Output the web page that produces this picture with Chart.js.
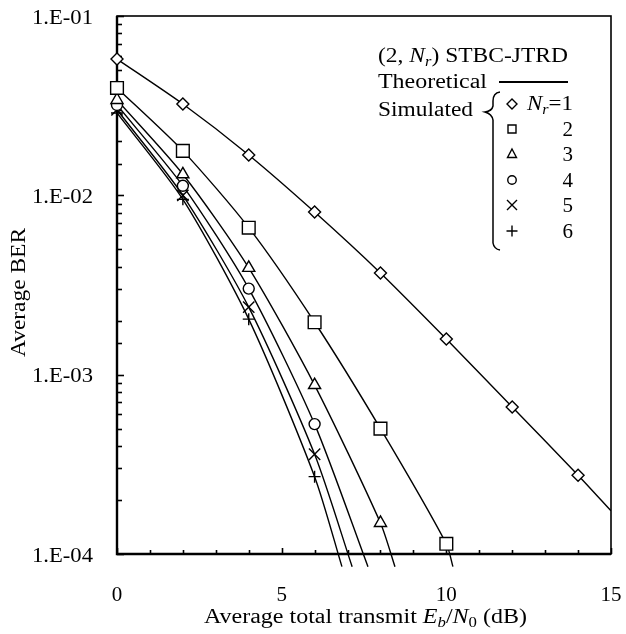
<!DOCTYPE html>
<html>
<head>
<meta charset="utf-8">
<script src="https://cdn.jsdelivr.net/npm/chart.js@4.4.1/dist/chart.umd.min.js"></script>
<style>
  body { margin: 0; background: #fff; }
  #berChart { display: block; }
</style>
</head>
<body>
<canvas id="berChart" width="626" height="634"></canvas>
<script>
// SNR points where the simulation was run (dB)
const snrSim = [0, 2, 4, 6, 8, 10, 12, 14];
// simulated BER, one list per number of receive antennas
const berSim1 = [5.75e-2, 3.23e-2, 1.68e-2, 8.07e-3, 3.69e-3, 1.58e-3, 6.6e-4, 2.75e-4];
const berSim2 = [3.97e-2, 1.77e-2, 6.6e-3, 1.96e-3, 5.0e-4, 1.14e-4];
const berSim3 = [3.4e-2, 1.31e-2, 3.94e-3, 8.75e-4, 1.49e-4];
const berSim4 = [3.19e-2, 1.13e-2, 3.02e-3, 5.3e-4];
const berSim5 = [3.0e-2, 1.0e-2, 2.38e-3, 3.6e-4];
const berSim6 = [2.88e-2, 9.5e-3, 2.04e-3, 2.7e-4];
// where each theoretical curve leaves the plot
const endSnr = [15, 10.2, 8.44, 7.62, 7.14, 6.83];
const endBer = [1.74e-4, 8.5e-5, 8.5e-5, 8.5e-5, 8.5e-5, 8.5e-5];
const nrLabels = ['1', '2', '3', '4', '5', '6'];
const markers = ['rectRot', 'rect', 'triangle', 'circle', 'crossRot', 'cross'];
const markerSize = [6, 9, 7, 5.5, 8, 6];
// axis ticks
const xTicks = [0, 5, 10, 15];
const yTicks = [1e-4, 1e-3, 1e-2, 1e-1];

const serif = 'Liberation Serif';
const allSim = [berSim1, berSim2, berSim3, berSim4, berSim5, berSim6];

var datasets = [];
allSim.forEach(function(ber, i) {
  // simulated points
  datasets.push({
    label: 'Simulated Nr=' + nrLabels[i],
    data: ber.map(function(v, k) { return {x: snrSim[k], y: v}; }),
    showLine: false,
    pointStyle: markers[i],
    pointRadius: markerSize[i],
    pointBorderWidth: 1.4,
    pointBorderColor: '#000',
    pointBackgroundColor: '#fff',
    clip: 12,
    order: 1
  });
});
allSim.forEach(function(ber, i) {
  // theoretical curve
  var pts = ber.map(function(v, k) { return {x: snrSim[k], y: v}; });
  pts.push({x: endSnr[i], y: endBer[i]});
  datasets.push({
    label: 'Theoretical Nr=' + nrLabels[i],
    data: pts,
    showLine: true,
    borderColor: '#000',
    borderWidth: 1.4,
    pointRadius: 0,
    tension: 0.25,
    clip: {left: 0, top: 0, right: 0, bottom: 13},
    order: 2
  });
});

function setFont(ctx, r, size) {
  var fs = r.sub ? size * 0.7 : size;
  ctx.font = (r.it ? 'italic ' : '') + fs + 'px "' + serif + '"';
}
function runsWidth(ctx, runs, size) {
  var w = 0;
  runs.forEach(function(r) { setFont(ctx, r, size); w += ctx.measureText(r.t).width; });
  return w;
}
// draw runs of text (italic / subscript parts), squeezed or stretched to a width
function drawRuns(ctx, runs, x, y, size, width) {
  var nat = runsWidth(ctx, runs, size);
  var hs = width ? width / nat : 1;
  ctx.save();
  ctx.translate(x, y);
  ctx.scale(hs, 1);
  var cx = 0;
  runs.forEach(function(r) {
    setFont(ctx, r, size);
    ctx.fillText(r.t, cx, r.sub ? size * 0.22 : 0);
    cx += ctx.measureText(r.t).width;
  });
  ctx.restore();
}

function legendMarker(ctx, type, x, y, s) {
  ctx.beginPath();
  if (type == 'rectRot') {
    ctx.moveTo(x, y - s); ctx.lineTo(x + s, y); ctx.lineTo(x, y + s); ctx.lineTo(x - s, y); ctx.closePath();
  } else if (type == 'rect') {
    ctx.rect(x - s * 0.8, y - s * 0.8, s * 1.6, s * 1.6);
  } else if (type == 'triangle') {
    ctx.moveTo(x, y - s); ctx.lineTo(x + s * 0.9, y + s * 0.7); ctx.lineTo(x - s * 0.9, y + s * 0.7); ctx.closePath();
  } else if (type == 'circle') {
    ctx.arc(x, y, s * 0.85, 0, Math.PI * 2);
  } else if (type == 'crossRot') {
    ctx.moveTo(x - s, y - s); ctx.lineTo(x + s, y + s); ctx.moveTo(x + s, y - s); ctx.lineTo(x - s, y + s);
  } else {
    ctx.moveTo(x - s * 1.1, y); ctx.lineTo(x + s * 1.1, y); ctx.moveTo(x, y - s * 1.1); ctx.lineTo(x, y + s * 1.1);
  }
  ctx.stroke();
}

function isDecade(v) {
  var lg = Math.log10(v);
  return Math.abs(lg - Math.round(lg)) < 1e-6;
}

var decor = {
  id: 'decor',
  beforeDatasetsDraw: function(chart) {
    var ctx = chart.ctx, a = chart.chartArea;
    var xs = chart.scales.x, ys = chart.scales.y;
    ctx.save();
    ctx.strokeStyle = '#000';
    ctx.fillStyle = '#000';
    // inward ticks
    ctx.lineWidth = 1.6;
    ys.ticks.forEach(function(t) {
      var py = Math.round(ys.getPixelForValue(t.value)) + 0.5;
      ctx.beginPath();
      ctx.moveTo(a.left, py);
      ctx.lineTo(a.left + (isDecade(t.value) ? 7 : 5), py);
      ctx.stroke();
    });
    xs.ticks.forEach(function(t) {
      var px = Math.round(xs.getPixelForValue(t.value)) + 0.5;
      ctx.beginPath();
      ctx.moveTo(px, a.bottom);
      ctx.lineTo(px, a.bottom - (t.value % 5 == 0 ? 6 : 4));
      ctx.stroke();
    });
    // frame
    ctx.lineWidth = 1.6;
    ctx.strokeRect(a.left, a.top, a.right - a.left, a.bottom - a.top);
    ctx.lineWidth = 2.4;
    ctx.beginPath();
    ctx.moveTo(a.left, a.top); ctx.lineTo(a.left, a.bottom); ctx.lineTo(a.right, a.bottom);
    ctx.stroke();

    // tick labels
    ctx.textBaseline = 'alphabetic';
    yTicks.forEach(function(v) {
      var py = ys.getPixelForValue(v);
      var txt = '1.E-0' + Math.round(-Math.log10(v));
      drawRuns(ctx, [{t: txt}], a.left - 85, py + 7.5, 20, 61);
    });
    ctx.font = '21px "' + serif + '"';
    ctx.textAlign = 'center';
    xTicks.forEach(function(v) {
      ctx.fillText(String(v), xs.getPixelForValue(v), 601);
    });
    ctx.restore();
  },
  afterDraw: function(chart) {
    var ctx = chart.ctx;
    ctx.save();
    ctx.fillStyle = '#000';
    ctx.strokeStyle = '#000';
    ctx.textBaseline = 'alphabetic';
    ctx.textAlign = 'left';

    // x axis title
    var xTitle = [{t: 'Average total transmit '}, {t: 'E', it: true}, {t: 'b', it: true, sub: true},
      {t: '/'}, {t: 'N', it: true}, {t: '0', sub: true}, {t: ' (dB)'}];
    drawRuns(ctx, xTitle, 204, 623, 20, 323);

    // y axis title
    ctx.save();
    ctx.translate(25, 357);
    ctx.rotate(-Math.PI / 2);
    drawRuns(ctx, [{t: 'Average BER'}], 0, 0, 21, 129);
    ctx.restore();

    // legend block
    drawRuns(ctx, [{t: '(2, '}, {t: 'N', it: true}, {t: 'r', it: true, sub: true}, {t: ') STBC-JTRD'}], 378, 62, 20, 190);
    drawRuns(ctx, [{t: 'Theoretical'}], 378, 88, 20, 109);
    drawRuns(ctx, [{t: 'Simulated'}], 378, 116, 20, 95);
    ctx.lineWidth = 2;
    ctx.beginPath();
    ctx.moveTo(499, 82); ctx.lineTo(568, 82);
    ctx.stroke();
    // brace
    ctx.lineWidth = 1.5;
    ctx.beginPath();
    ctx.moveTo(500, 92);
    ctx.quadraticCurveTo(493, 93, 493, 101);
    ctx.lineTo(493, 106);
    ctx.quadraticCurveTo(492, 111, 485, 112);
    ctx.quadraticCurveTo(492, 114, 493, 120);
    ctx.lineTo(493, 243);
    ctx.quadraticCurveTo(494, 249, 500, 250);
    ctx.stroke();

    var rowY = [104, 129, 154, 180, 205, 231];
    ctx.lineWidth = 1.4;
    rowY.forEach(function(y, i) {
      legendMarker(ctx, markers[i], 512, y, 5);
      if (i == 0) {
        drawRuns(ctx, [{t: 'N', it: true}, {t: 'r', it: true, sub: true}, {t: '=' + nrLabels[i]}], 527, y + 6, 20, 46);
      } else {
        ctx.font = '21px "' + serif + '"';
        ctx.textAlign = 'right';
        ctx.fillText(nrLabels[i], 573, y + 7);
        ctx.textAlign = 'left';
      }
    });
    ctx.restore();
  }
};

var ctx = document.getElementById('berChart').getContext('2d');
var berChart = new Chart(ctx, {
  type: 'scatter',
  data: { datasets: datasets },
  options: {
    responsive: false,
    animation: false,
    devicePixelRatio: 1,
    layout: { padding: { left: 0, right: 15, top: 16, bottom: 0 } },
    plugins: {
      legend: { display: false },
      tooltip: { enabled: false }
    },
    scales: {
      x: {
        type: 'linear',
        min: 0,
        max: 15,
        afterFit: function(scale) { scale.height = 80; },
        grid: { display: false, drawTicks: false },
        border: { display: false },
        ticks: { display: false, stepSize: 1, autoSkip: false, padding: 0 }
      },
      y: {
        type: 'logarithmic',
        min: 1e-4,
        max: 1e-1,
        afterFit: function(scale) { scale.width = 117; },
        grid: { display: false, drawTicks: false },
        border: { display: false },
        ticks: { display: false, autoSkip: false, padding: 0 }
      }
    }
  },
  plugins: [decor]
});
</script>
</body>
</html>
